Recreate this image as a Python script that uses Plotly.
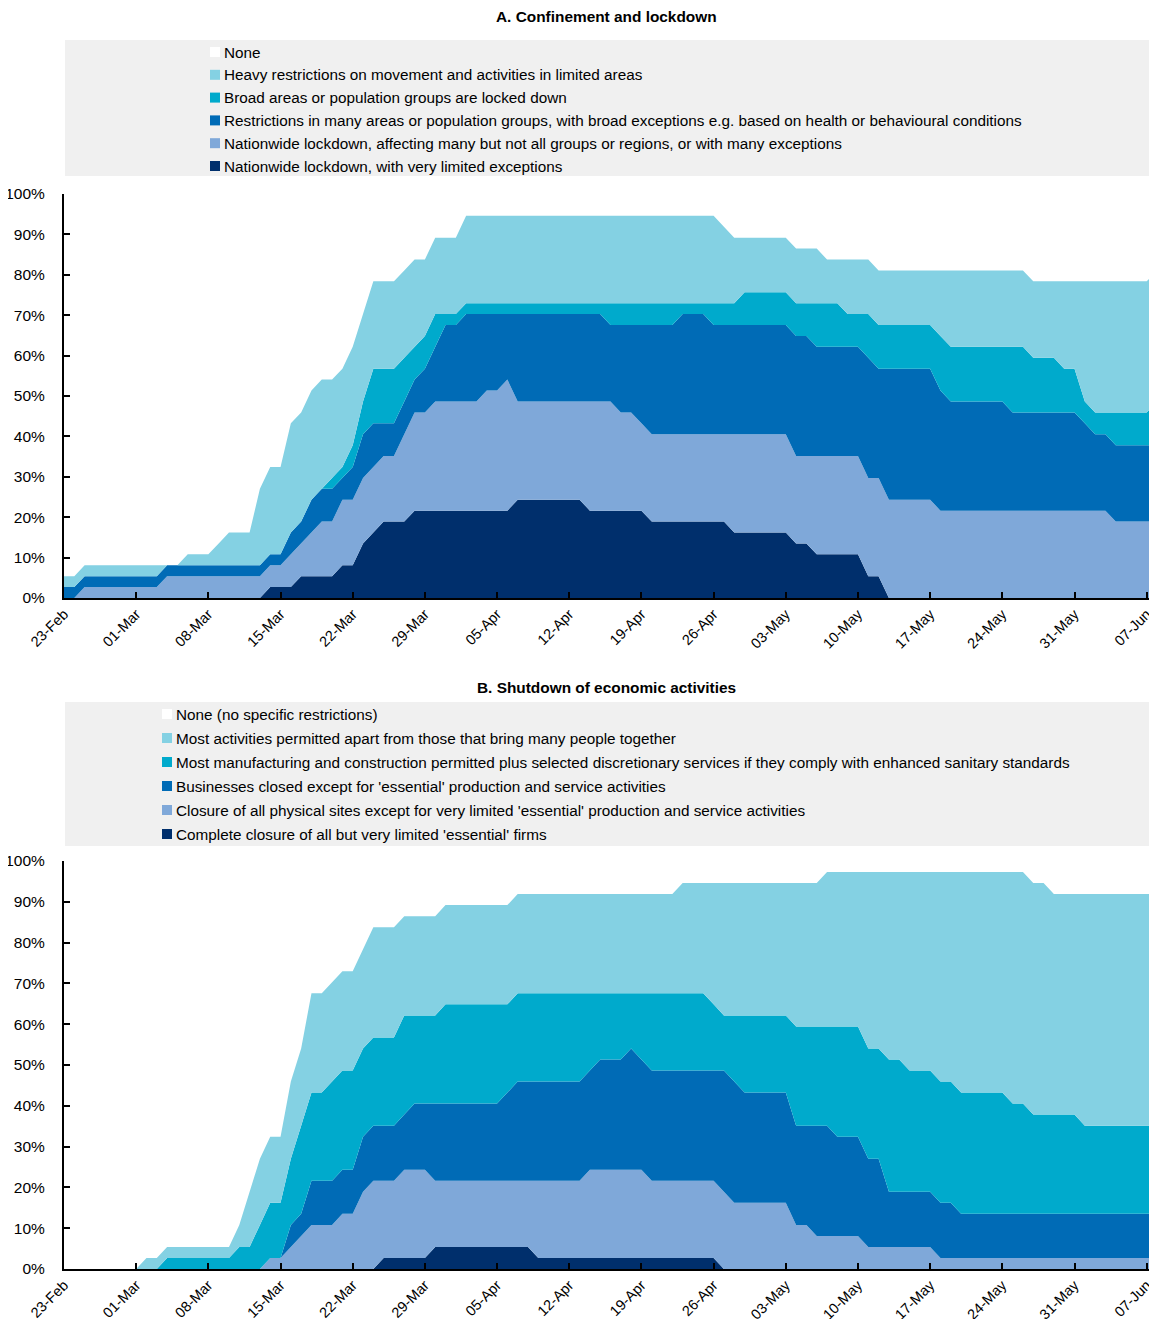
import pandas as pd
import plotly.graph_objects as go

# the page adds an 8px body margin; target positions below are screen pixels
OFF = 8
W, H = 1157 - OFF, 1319 - OFF
FONT = "Liberation Sans, Arial, sans-serif"
N_COUNTRIES = 37

DATES = pd.date_range("2020-02-23", "2020-06-08", freq="D")

COLORS = ["#002F6C", "#7FA8D9", "#006BB6", "#00AACC", "#84D1E3"]

# Panel A: number of countries at each level, one value per day (weekly rows)
A_LEVEL5 = [
    0, 0, 0, 0, 0, 0, 0,  0, 0, 0, 0, 0, 0, 0,  0, 0, 0, 0, 0, 0, 1,
    1, 1, 2, 2, 2, 2, 3,  3, 5, 6, 7, 7, 7, 8,  8, 8, 8, 8, 8, 8, 8,
    8, 8, 9, 9, 9, 9, 9,  9, 9, 8, 8, 8, 8, 8,  8, 7, 7, 7, 7, 7, 7,
    7, 7, 6, 6, 6, 6, 6,  6, 5, 5, 4, 4, 4, 4,  4, 2, 2, 0, 0, 0, 0,
    0, 0, 0, 0, 0, 0, 0,  0, 0, 0, 0, 0, 0, 0,  0, 0, 0, 0, 0, 0, 0,
    0, 0,
]
A_LEVEL4 = [
    0, 0, 1, 1, 1, 1, 1,  1, 1, 1, 2, 2, 2, 2,  2, 2, 2, 2, 2, 2, 2,
    2, 3, 3, 4, 5, 5, 6,  6, 6, 6, 6, 6, 8, 9,  9, 10, 10, 10, 10, 10, 11,
    11, 12, 9, 9, 9, 9, 9,  9, 9, 10, 10, 10, 9, 9,  8, 8, 8, 8, 8, 8, 8,
    8, 8, 9, 9, 9, 9, 9,  9, 8, 8, 9, 9, 9, 9,  9, 9, 9, 9, 9, 9, 9,
    9, 8, 8, 8, 8, 8, 8,  8, 8, 8, 8, 8, 8, 8,  8, 8, 8, 8, 7, 7, 7,
    7, 7,
]
A_LEVEL3 = [
    1, 1, 1, 1, 1, 1, 1,  1, 1, 1, 1, 1, 1, 1,  1, 1, 1, 1, 1, 1, 1,
    1, 2, 2, 3, 3, 3, 2,  3, 4, 4, 3, 3, 3, 3,  4, 5, 7, 7, 8, 8, 7,
    7, 6, 8, 8, 8, 8, 8,  8, 8, 8, 8, 7, 8, 8,  9, 10, 10, 10, 11, 11, 11,
    10, 10, 10, 10, 10, 10, 10,  10, 11, 11, 10, 10, 10, 10,  10, 11, 10, 12, 12, 12, 12,
    12, 11, 10, 10, 10, 10, 10,  10, 9, 9, 9, 9, 9, 9,  9, 8, 7, 7, 7, 7, 7,
    7, 7,
]
A_LEVEL2 = [
    0, 0, 0, 0, 0, 0, 0,  0, 0, 0, 0, 0, 0, 0,  0, 0, 0, 0, 0, 0, 0,
    0, 0, 0, 0, 0, 1, 1,  2, 3, 5, 5, 5, 4, 3,  3, 3, 1, 1, 1, 1, 1,
    1, 1, 1, 1, 1, 1, 1,  1, 1, 1, 1, 2, 2, 2,  2, 2, 2, 2, 1, 1, 1,
    2, 2, 2, 3, 3, 3, 3,  3, 3, 3, 4, 4, 4, 3,  3, 4, 4, 4, 4, 4, 4,
    4, 5, 5, 5, 5, 5, 5,  5, 6, 6, 5, 5, 5, 4,  4, 2, 2, 2, 3, 3, 3,
    3, 4,
]
A_LEVEL1 = [
    1, 1, 1, 1, 1, 1, 1,  1, 1, 1, 0, 0, 1, 1,  1, 2, 3, 3, 3, 7, 8,
    8, 10, 10, 10, 10, 9, 9,  9, 8, 8, 8, 8, 8, 8,  7, 7, 7, 7, 8, 8, 8,
    8, 8, 8, 8, 8, 8, 8,  8, 8, 8, 8, 8, 8, 8,  8, 8, 8, 8, 8, 8, 8,
    8, 7, 6, 5, 5, 5, 5,  5, 5, 5, 5, 4, 4, 5,  5, 5, 5, 5, 5, 5, 5,
    5, 6, 7, 7, 7, 7, 7,  7, 7, 7, 7, 7, 7, 8,  8, 11, 12, 12, 12, 12, 12,
    12, 12,
]

# Panel B
B_LEVEL5 = [
    0, 0, 0, 0, 0, 0, 0,  0, 0, 0, 0, 0, 0, 0,  0, 0, 0, 0, 0, 0, 0,
    0, 0, 0, 0, 0, 0, 0,  0, 0, 0, 1, 1, 1, 1,  1, 2, 2, 2, 2, 2, 2,
    2, 2, 2, 2, 1, 1, 1,  1, 1, 1, 1, 1, 1, 1,  1, 1, 1, 1, 1, 1, 1,
    1, 0, 0, 0, 0, 0, 0,  0, 0, 0, 0, 0, 0, 0,  0, 0, 0, 0, 0, 0, 0,
    0, 0, 0, 0, 0, 0, 0,  0, 0, 0, 0, 0, 0, 0,  0, 0, 0, 0, 0, 0, 0,
    0, 0,
]
B_LEVEL4 = [
    0, 0, 0, 0, 0, 0, 0,  0, 0, 0, 0, 0, 0, 0,  0, 0, 0, 0, 0, 0, 1,
    1, 2, 3, 4, 4, 4, 5,  5, 7, 8, 7, 7, 8, 8,  8, 6, 6, 6, 6, 6, 6,
    6, 6, 6, 6, 7, 7, 7,  7, 7, 8, 8, 8, 8, 8,  8, 7, 7, 7, 7, 7, 7,
    7, 7, 6, 6, 6, 6, 6,  6, 4, 4, 3, 3, 3, 3,  3, 2, 2, 2, 2, 2, 2,
    2, 1, 1, 1, 1, 1, 1,  1, 1, 1, 1, 1, 1, 1,  1, 1, 1, 1, 1, 1, 1,
    1, 1,
]
B_LEVEL3 = [
    0, 0, 0, 0, 0, 0, 0,  0, 0, 0, 0, 0, 0, 0,  0, 0, 0, 0, 0, 0, 0,
    0, 2, 2, 4, 4, 4, 4,  4, 5, 5, 5, 5, 5, 6,  6, 7, 7, 7, 7, 7, 7,
    7, 8, 9, 9, 9, 9, 9,  9, 9, 9, 10, 10, 10, 11,  10, 10, 10, 10, 10, 10, 10,
    10, 11, 11, 10, 10, 10, 10,  10, 9, 9, 10, 10, 9, 9,  9, 8, 8, 5, 5, 5, 5,
    5, 5, 5, 4, 4, 4, 4,  4, 4, 4, 4, 4, 4, 4,  4, 4, 4, 4, 4, 4, 4,
    4, 4,
]
B_LEVEL2 = [
    0, 0, 0, 0, 0, 0, 0,  0, 0, 0, 1, 1, 1, 1,  1, 1, 1, 2, 2, 4, 5,
    5, 6, 8, 8, 8, 9, 9,  9, 8, 8, 8, 8, 9, 8,  8, 8, 9, 9, 9, 9, 9,
    9, 8, 8, 8, 8, 8, 8,  8, 8, 7, 6, 6, 6, 5,  6, 7, 7, 7, 7, 7, 7,
    6, 5, 6, 7, 7, 7, 7,  7, 9, 9, 9, 9, 10, 10,  10, 10, 10, 12, 12, 11, 11,
    11, 11, 11, 11, 11, 11, 11,  11, 10, 10, 9, 9, 9, 9,  9, 8, 8, 8, 8, 8, 8,
    8, 8,
]
B_LEVEL1 = [
    0, 0, 0, 0, 0, 0, 0,  0, 1, 1, 1, 1, 1, 1,  1, 1, 1, 2, 5, 6, 6,
    6, 7, 7, 9, 9, 9, 9,  9, 9, 10, 10, 10, 9, 9,  9, 9, 9, 9, 9, 9, 9,
    9, 9, 9, 9, 9, 9, 9,  9, 9, 9, 9, 9, 9, 9,  9, 9, 9, 9, 10, 10, 10,
    11, 12, 12, 12, 12, 12, 12,  12, 13, 13, 13, 14, 14, 14,  14, 16, 16, 17, 17, 18, 18,
    18, 19, 19, 20, 20, 20, 20,  20, 21, 21, 21, 21, 20, 20,  20, 21, 21, 21, 21, 21, 21,
    21, 21,
]

A_LABELS = [
    "None",
    "Heavy restrictions on movement and activities in limited areas",
    "Broad areas or population groups are locked down",
    "Restrictions in many areas or population groups, with broad exceptions e.g. based on health or behavioural conditions",
    "Nationwide lockdown, affecting many but not all groups or regions, or with many exceptions",
    "Nationwide lockdown, with very limited exceptions",
]
B_LABELS = [
    "None (no specific restrictions)",
    "Most activities permitted apart from those that bring many people together",
    "Most manufacturing and construction permitted plus selected discretionary services if they comply with enhanced sanitary standards",
    "Businesses closed except for 'essential' production and service activities",
    "Closure of all physical sites except for very limited 'essential' production and service activities",
    "Complete closure of all but very limited 'essential' firms",
]
LEGEND_COLORS = ["#FFFFFF", COLORS[4], COLORS[3], COLORS[2], COLORS[1], COLORS[0]]


def px(x):
    return (x - OFF) / W


def py(y):
    return 1 - (y - OFF) / H


fig = go.Figure()

panels = [
    ("x", "y", [A_LEVEL5, A_LEVEL4, A_LEVEL3, A_LEVEL2, A_LEVEL1]),
    ("x2", "y2", [B_LEVEL5, B_LEVEL4, B_LEVEL3, B_LEVEL2, B_LEVEL1]),
]
for xa, ya, series in panels:
    for counts, color in zip(series, COLORS):
        share = [c / N_COUNTRIES * 100 for c in counts]
        fig.add_trace(go.Scatter(
            x=DATES, y=share, xaxis=xa, yaxis=ya,
            stackgroup=ya, mode="lines",
            line={"width": 0, "color": color},
            fillcolor=color, showlegend=False, hoverinfo="skip",
        ))

shapes = []
annotations = []

# grey legend boxes, squares and labels
for (box_top, box_bot, row0, step, sq_x, labels) in [
    (40, 176, 52, 22.8, 210, A_LABELS),
    (702, 846, 714, 24, 162, B_LABELS),
]:
    shapes.append(dict(
        type="rect", xref="paper", yref="paper", layer="below",
        x0=px(65), x1=1, y0=py(box_bot), y1=py(box_top),
        fillcolor="#F0F0F0", line={"width": 0},
    ))
    for i, (lab, col) in enumerate(zip(labels, LEGEND_COLORS)):
        yc = row0 + i * step
        shapes.append(dict(
            type="rect", xref="paper", yref="paper",
            x0=px(sq_x), x1=px(sq_x + 10), y0=py(yc + 5), y1=py(yc - 5),
            fillcolor=col, line={"width": 0},
        ))
        annotations.append(dict(
            text=lab, xref="paper", yref="paper", x=px(sq_x + 12), y=py(yc),
            xanchor="left", yanchor="middle", showarrow=False,
            font={"family": FONT, "size": 15.3, "color": "#000"},
        ))

for title, ty in [("A. Confinement and lockdown", 17),
                  ("B. Shutdown of economic activities", 687)]:
    annotations.append(dict(
        text=f"<b>{title}</b>", xref="paper", yref="paper", x=px(606), y=py(ty),
        xanchor="center", yanchor="middle", showarrow=False,
        font={"family": FONT, "size": 15.4, "color": "#000"},
    ))

xaxis_style = dict(
    type="date", automargin=False,
    range=["2020-02-23", "2020-06-08"],
    tick0="2020-02-23", dtick=7 * 86400000, tickformat="%d-%b",
    tickangle=-45, ticks="inside", ticklen=6, tickwidth=2, tickcolor="#000",
    showline=True, linecolor="#000", linewidth=2, showgrid=False, zeroline=False,
    tickfont={"family": FONT, "size": 14.5, "color": "#000"},
)
yaxis_style = dict(
    automargin=False,
    range=[0, 100], dtick=10, ticksuffix="%",
    ticks="inside", ticklen=6, tickwidth=2, tickcolor="#000",
    showline=True, linecolor="#000", linewidth=2, showgrid=False, zeroline=False,
    tickfont={"family": FONT, "size": 15.5, "color": "#000"},
    ticklabelstandoff=14,
)

fig.update_layout(
    width=W, height=H,
    margin={"l": 0, "r": 0, "t": 0, "b": 0},
    paper_bgcolor="white", plot_bgcolor="white",
    font={"family": FONT},
    showlegend=False,
    xaxis=dict(xaxis_style, domain=[px(64), 1], anchor="y"),
    yaxis=dict(yaxis_style, domain=[py(598), py(194)], anchor="x"),
    xaxis2=dict(xaxis_style, domain=[px(64), 1], anchor="y2"),
    yaxis2=dict(yaxis_style, domain=[py(1269), py(861)], anchor="x2"),
    shapes=shapes,
    annotations=annotations,
)

fig.write_html("out.html")
